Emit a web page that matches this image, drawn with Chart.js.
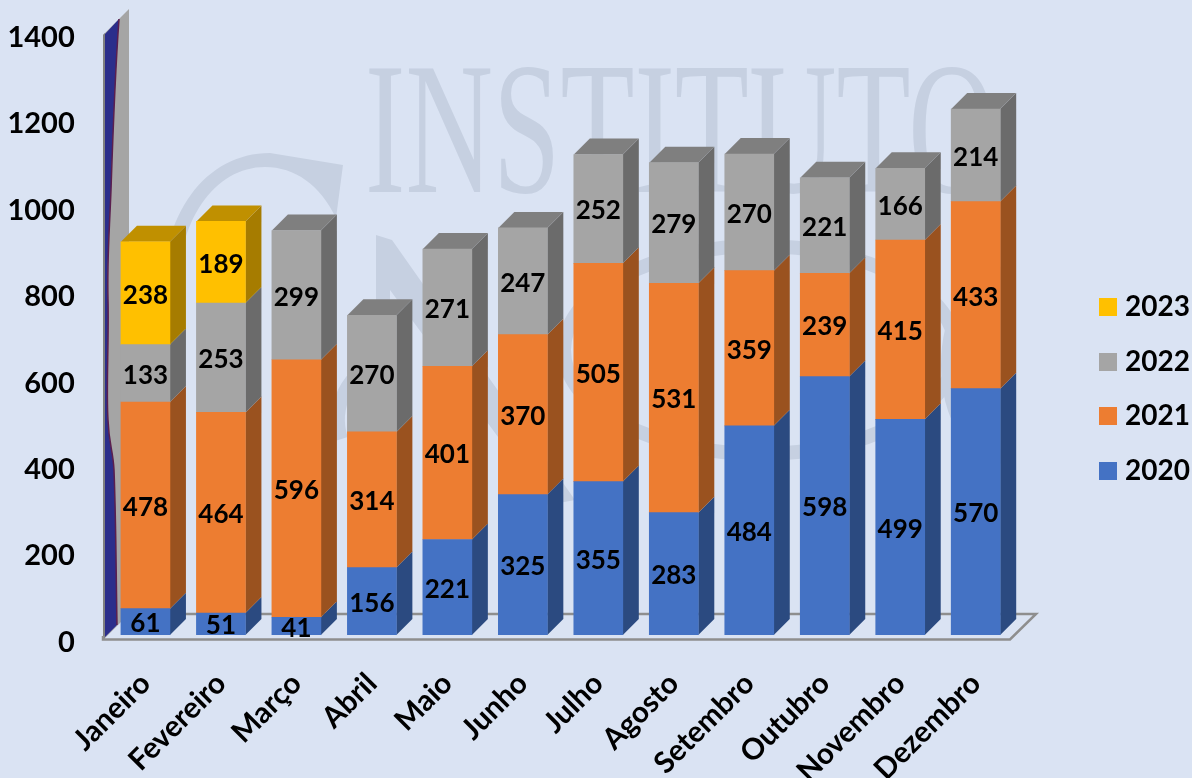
<!DOCTYPE html>
<html><head><meta charset="utf-8">
<style>html,body{margin:0;padding:0;background:#DAE3F3;overflow:hidden}canvas{display:block}</style>
<script src="https://cdn.jsdelivr.net/npm/chart.js@4"></script>
</head><body><canvas id="c" width="1192" height="778"></canvas>
<script>
const categories=['Janeiro','Fevereiro','Março','Abril','Maio','Junho','Julho','Agosto','Setembro','Outubro','Novembro','Dezembro'];
const v2020=[61,51,41,156,221,325,355,283,484,598,499,570];
const v2021=[478,464,596,314,401,370,505,531,359,239,415,433];
const v2022=[133,253,299,270,271,247,252,279,270,221,166,214];
const v2023=[238,189,null,null,null,null,null,null,null,null,null,null];
const yTicks=[0,200,400,600,800,1000,1200,1400];
const FONT='Lato, Carlito, "Open Sans", sans-serif';
const DEPTH=16;
const shades={
 '2020':{front:'#4472C4',side:'#2B4A80',top:'#2F5597'},
 '2021':{front:'#ED7D31',side:'#9A521F',top:'#B35E24'},
 '2022':{front:'#A5A5A5',side:'#6B6B6B',top:'#7F7F7F'},
 '2023':{front:'#FFC000',side:'#A67C00',top:'#C09000'}
};
function swatch(color){const k=document.createElement('canvas');k.width=18;k.height=18;const x=k.getContext('2d');x.fillStyle=color;x.fillRect(0,0,18,18);return k;}
function poly(ctx,pts,fill){ctx.beginPath();pts.forEach((p,i)=>i?ctx.lineTo(p[0],p[1]):ctx.moveTo(p[0],p[1]));ctx.closePath();ctx.fillStyle=fill;ctx.fill();}
function wavy(c){c.moveTo(119,19);c.bezierCurveTo(116,60,113,130,111,190);c.bezierCurveTo(109,240,107,260,108,300);
  c.bezierCurveTo(109,340,106,390,108,420);c.bezierCurveTo(109,445,113,450,114,470);c.bezierCurveTo(116,520,116,570,117,625);}
const backdrop={id:'backdrop',
 afterLayout(chart){chart.scales.x.bottom=chart.height;},
 beforeDatasetsDraw(chart){
  const c=chart.ctx;c.save();
  const wm='#C6D0E1';
  // watermark logo
  c.fillStyle=wm;c.beginPath();c.moveTo(163,300);c.bezierCurveTo(160,215,205,153,270,153);c.lineTo(343,165);c.lineTo(336,218);
  c.bezierCurveTo(320,185,295,167,265,167);c.bezierCurveTo(215,167,176,220,177,300);c.closePath();c.fill();
  poly(c,[[376,235],[392,240],[575,500],[548,505],[390,290],[390,420],[376,420]],wm);
  c.strokeStyle=wm;c.lineWidth=14;
  c.beginPath();c.ellipse(760,350,196,104,0,0,Math.PI*2);c.stroke();
  c.beginPath();c.ellipse(1005,365,57,92,0,Math.PI*0.5,Math.PI*1.5);c.stroke();
  c.beginPath();c.arc(400,420,62,Math.PI*0.9,Math.PI*1.4);c.stroke();
  c.fillStyle=wm;c.font='188px "Liberation Serif", serif';c.textBaseline='alphabetic';c.textAlign='left';
  c.save();c.translate(365,192);c.scale(0.645,1);c.fillText('INSTITUTO',0,0);c.restore();
  // left wall
  poly(c,[[103,35],[129,9],[129,614],[103,640]],'#A5A5A5');
  c.beginPath();c.moveTo(105,34);c.lineTo(119,19);
  c.bezierCurveTo(116,60,113,130,111,190);c.bezierCurveTo(109,240,107,260,108,300);
  c.bezierCurveTo(109,340,106,390,108,420);c.bezierCurveTo(109,445,113,450,114,470);c.bezierCurveTo(116,520,116,570,117,625);
  c.lineTo(105,637);c.closePath();c.fillStyle='#2B2E8B';c.fill();
  c.strokeStyle='#5B1F4E';c.lineWidth=1.5;c.beginPath();wavy(c);c.stroke();
  poly(c,[[103,35],[105,33],[105,638],[103,640]],'#808080');
  // floor
  c.strokeStyle='#8E8E8E';c.lineWidth=2.5;
  c.beginPath();c.moveTo(129,614);c.lineTo(1036,614);c.lineTo(1010,639.5);c.lineTo(103,639.5);c.lineTo(103,636);c.stroke();
  // right and top faces
  const ds=chart.data.datasets;
  categories.forEach((_,i)=>{
    let topIdx=-1;
    ds.forEach((d,k)=>{if(d.data[i]!=null)topIdx=k;});
    ds.forEach((d,k)=>{
      const el=chart.getDatasetMeta(k).data[i];
      if(d.data[i]==null)return;
      const s=shades[d.label],r=el.x+el.width/2,l=el.x-el.width/2;
      poly(c,[[r,el.y],[r+DEPTH,el.y-DEPTH],[r+DEPTH,el.base-DEPTH],[r,el.base]],s.side);
      if(k===topIdx)poly(c,[[l,el.y],[l+DEPTH,el.y-DEPTH],[r+DEPTH,el.y-DEPTH],[r,el.y]],s.top);
    });
  });
  c.restore();
}};
const valueLabels={id:'valueLabels',afterDatasetsDraw(chart){
  const c=chart.ctx;c.save();c.font='bold 26px '+FONT;c.fillStyle='#000';c.textAlign='center';c.textBaseline='middle';
  chart.data.datasets.forEach((d,k)=>{
    chart.getDatasetMeta(k).data.forEach((el,i)=>{
      if(d.data[i]==null)return;
      c.fillText(String(d.data[i]),el.x,(el.y+el.base)/2+2);
    });
  });
  c.restore();
}};
function noPad(s){s.paddingTop=0;s.paddingBottom=0;s.paddingLeft=0;s.paddingRight=0;}
new Chart(document.getElementById('c'),{
  type:'bar',
  data:{labels:categories,datasets:[
    {label:'2020',data:v2020,backgroundColor:shades['2020'].front,yAxisID:'yBar'},
    {label:'2021',data:v2021,backgroundColor:shades['2021'].front,yAxisID:'yBar'},
    {label:'2022',data:v2022,backgroundColor:shades['2022'].front,yAxisID:'yBar'},
    {label:'2023',data:v2023,backgroundColor:shades['2023'].front,yAxisID:'yBar'}
  ]},
  plugins:[backdrop,valueLabels],
  options:{
    responsive:false,animation:false,
    layout:{padding:{top:30,left:0,right:-8,bottom:30}},
    datasets:{bar:{barThickness:49,borderWidth:0}},
    plugins:{
      tooltip:{enabled:false},
      legend:{position:'right',reverse:true,labels:{color:'#000',font:{family:FONT,size:28,weight:'bold'},usePointStyle:true,pointStyleWidth:6,boxHeight:18,padding:26.6,
        generateLabels(chart){return Chart.defaults.plugins.legend.labels.generateLabels(chart).map(l=>({...l,pointStyle:swatch(shades[l.text].front)}));}}}
    },
    scales:{
      x:{stacked:true,grid:{display:false},border:{display:false},
         afterFit(s){s.height=113;noPad(s);},
         ticks:{autoSkip:false,maxRotation:45,minRotation:45,padding:23,color:'#000',font:{family:FONT,size:29.5,weight:'bold'}}},
      yBar:{stacked:true,position:'right',min:0,max:1400,grid:{display:false},border:{display:false},
         afterFit(s){s.width=65;noPad(s);},ticks:{display:false}},
      y:{position:'left',min:17.4,max:1417.4,grid:{display:false,drawTicks:false},border:{display:false},
         afterFit(s){s.width=107.7;noPad(s);},
         afterBuildTicks(s){s.ticks=yTicks.map(v=>({value:v}));},
         ticks:{padding:33,color:'#000',callback:v=>String(v),font:{family:FONT,size:29,weight:'bold'}}}
    }
  }
});
</script></body></html>
